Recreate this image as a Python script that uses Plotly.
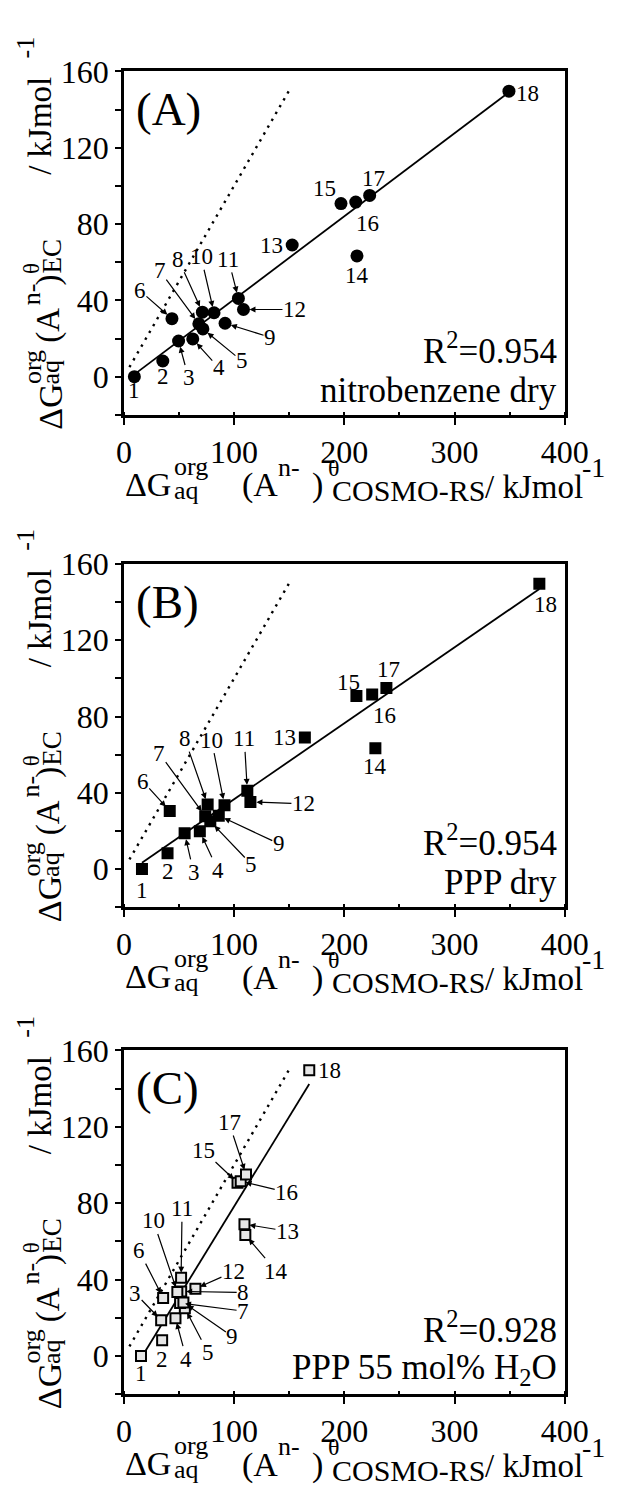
import plotly.graph_objects as go

W, H = 640, 1490
SERIF = "Liberation Serif"

# ---------------- data ----------------
anion_ids = [str(i) for i in range(1, 19)]
# experimental (electrochemical) transfer energies, kJ/mol (y axis, same in all panels)
dg_ec = [0.0, 8.2, 18.7, 19.8, 25.0, 30.4, 27.7, 33.8, 28.0, 33.5,
         41.0, 35.2, 69.0, 63.3, 90.7, 91.5, 95.0, 149.6]
# COSMO-RS predictions, kJ/mol (x axis)
dg_cosmo_nb_dry = [9.5, 35.3, 49.6, 62.5, 71.7, 43.6, 68.0, 71.2, 91.8, 81.8,
                   103.9, 108.5, 152.7, 211.5, 197.0, 210.4, 223.0, 349.4]
dg_cosmo_ppp_dry = [16.4, 39.6, 55.1, 68.9, 78.4, 41.6, 73.8, 76.0, 86.1, 91.3,
                    112.0, 114.8, 164.2, 228.2, 211.0, 225.3, 238.2, 377.0]
dg_cosmo_ppp_wet = [15.5, 34.7, 33.8, 46.8, 55.3, 35.6, 51.0, 52.0, 54.0, 48.5,
                    51.9, 64.9, 109.4, 110.2, 103.1, 106.0, 110.8, 168.2]
panel_letters = ["(A)", "(B)", "(C)"]
r2_values = ["0.954", "0.954", "0.928"]
conditions = ["nitrobenzene dry", "PPP dry", "PPP 55 mol% H<sub>2</sub>O"]
fit_slope = [0.4348, 0.3982, 0.94]
fit_intercept = [-2.92, -3.2, -15.75]
identity_range = [5, 150]
x_tick_step, y_tick_step = 100, 40
x_range, y_range = [0, 400], [-20, 160]

series = [dg_cosmo_nb_dry, dg_cosmo_ppp_dry, dg_cosmo_ppp_wet]

# ---------------- styles / layout positions ----------------
frame_left, frame_right = 122, 586
frame_top = [54, 552.7, 1045]
frame_bottom = [401.7, 900, 1393]

marker_styles = [
    dict(symbol="circle", size=13, color="black", line=dict(width=0)),
    dict(symbol="square", size=12, color="black", line=dict(width=0)),
    dict(symbol="square", size=10, color="#e6e6e6", line=dict(width=2, color="black")),
]

# label placement: ('a', ax, ay) arrow with text at pixel offset, ('t', dx, dy) plain text offset
label_pos = [
    [('t', 0, 14), ('t', 0, 15), ('a', 10, 37), ('a', 26, 29), ('a', 39, 32), ('a', -32, -28),
     ('a', -39, -53), ('a', -24, -53), ('a', 45, 14), ('a', -13, -56), ('a', -10, -39),
     ('a', 51, 0), ('t', -21, 0), ('t', 0, 20), ('t', -16, -15), ('t', 12, 21),
     ('t', 4, -17), ('t', 19, 2)],
    [('t', 0, 21), ('t', 0, 18), ('a', 9, 39), ('a', 18, 39), ('a', 41, 43), ('a', -27, -30),
     ('a', -46, -63), ('a', -23, -66), ('a', 60, 28), ('a', -13, -65), ('a', -3, -52),
     ('a', 53, 2), ('t', -20, 0), ('t', 0, 18), ('t', -8, -14), ('t', 12, 21),
     ('t', 2, -18), ('t', 6, 21)],
    [('t', 0, 18), ('t', 0, 19), ('a', -26, -27), ('a', 11, 41), ('a', 23, 44), ('a', -24, -47),
     ('a', 63, 8), ('a', 62, 1), ('a', 49, 34), ('a', -24, -71), ('a', 1, -69),
     ('a', 38, -17), ('a', 43, 7), ('a', 31, 36), ('a', -34, -32), ('a', 46, 11),
     ('a', -17, -52), ('t', 20, 0)],
]

# stacked axis-title pieces: (text, font size, left px, baseline offset below frame bottom)
xtitle_pieces = [("ΔG", 34, 122, 82), ("org", 26, 174, 61), ("aq", 26, 174, 85),
                 ("(A", 34, 245, 83), ("n-", 26, 283, 62), (")", 34, 319, 83),
                 ("θ", 24, 336, 62), ("COSMO-RS", 30, 340, 87),
                 ("/ kJmol", 33, 501, 84), ("-1", 28, 603, 63)]
# rotated pieces: (text, font size, start offset from frame bottom (px, +down), baseline x px)
ytitle_pieces = [("ΔG", 34, 16, 56), ("org", 26, -30, 34), ("aq", 26, -30, 54),
                 ("(A", 33, -72, 54), ("n-", 26, -110, 33), (")", 33, -130, 54),
                 ("θ", 23, -142, 32), ("EC", 27, -142, 56),
                 ("/ kJmol", 33, -242, 45), ("-1", 26, -360, 27)]


def px_x(px):
    return px / W


def px_y(py):
    return 1 - py / H


fig = go.Figure()

for i in range(3):
    sfx = "" if i == 0 else str(i + 1)
    xa, ya = "x" + sfx, "y" + sfx
    xs = series[i]

    # 1:1 reference line
    fig.add_trace(go.Scatter(x=identity_range, y=identity_range, mode="lines",
                             line=dict(color="black", width=2.4, dash="2.4px,5.5px"),
                             xaxis=xa, yaxis=ya, showlegend=False, hoverinfo="skip"))
    # regression line
    x0, x1 = min(xs), max(xs)
    fig.add_trace(go.Scatter(x=[x0, x1],
                             y=[fit_slope[i] * x0 + fit_intercept[i], fit_slope[i] * x1 + fit_intercept[i]],
                             mode="lines", line=dict(color="black", width=1.8),
                             xaxis=xa, yaxis=ya, showlegend=False, hoverinfo="skip"))
    # data points
    fig.add_trace(go.Scatter(x=xs, y=dg_ec, mode="markers", marker=marker_styles[i],
                             xaxis=xa, yaxis=ya, showlegend=False, text=anion_ids))

    # point labels
    for j, lab in enumerate(anion_ids):
        kind, dx, dy = label_pos[i][j]
        common = dict(x=xs[j], y=dg_ec[j], xref=xa, yref=ya, text=lab,
                      font=dict(family=SERIF, size=23, color="black"))
        if kind == 'a':
            fig.add_annotation(**common, showarrow=True, ax=dx, ay=dy, arrowhead=2,
                               arrowsize=1, arrowwidth=1.2, arrowcolor="black",
                               standoff=6 if i < 2 else 5, borderpad=0)
        else:
            fig.add_annotation(**common, showarrow=False, xshift=dx, yshift=-dy)

    top, bot = frame_top[i], frame_bottom[i]
    dom_y = [px_y(bot), px_y(top)]
    axis_common = dict(showgrid=False, zeroline=False, showline=True, linewidth=2.6,
                       linecolor="black", mirror=True, ticks="outside", tickwidth=2,
                       tickcolor="black", autorange=False,
                       tickfont=dict(family=SERIF, size=32, color="black"))
    fig.layout["xaxis" + sfx] = dict(axis_common, domain=[px_x(frame_left), px_x(frame_right)],
                                     range=x_range, tick0=0, dtick=x_tick_step, ticklen=7,
                                     anchor=ya,
                                     minor=dict(dtick=x_tick_step / 2, tick0=0, ticks="inside",
                                                ticklen=3, tickwidth=1.5, tickcolor="black"))
    fig.layout["yaxis" + sfx] = dict(axis_common, domain=dom_y, range=y_range, tick0=0,
                                     dtick=y_tick_step, ticklen=6, anchor=xa,
                                     minor=dict(dtick=y_tick_step / 2, tick0=0, ticks="outside",
                                                ticklen=6, tickwidth=2, tickcolor="black"))

    # panel letter
    fig.add_annotation(xref="paper", yref="paper", x=px_x(134), y=px_y(top + 38),
                       xanchor="left", yanchor="middle", showarrow=False, borderpad=0,
                       text=panel_letters[i], font=dict(family=SERIF, size=47, color="black"))
    # R^2 and condition
    fig.add_annotation(xref="paper", yref="paper", x=px_x(579), y=px_y(bot - 67),
                       xanchor="right", yanchor="middle", showarrow=False, borderpad=0,
                       text="R<sup>2</sup>=" + r2_values[i],
                       font=dict(family=SERIF, size=35, color="black"))
    fig.add_annotation(xref="paper", yref="paper", x=px_x(579), y=px_y(bot - 25),
                       xanchor="right", yanchor="middle", showarrow=False, borderpad=0,
                       text=conditions[i], font=dict(family=SERIF, size=35, color="black"))

    # x axis title (stacked sub/superscripts)
    for txt, fs, left, boff in xtitle_pieces:
        base = bot + boff
        fig.add_annotation(xref="paper", yref="paper", x=px_x(left), y=px_y(base - 0.34 * fs),
                           xanchor="left", yanchor="middle", showarrow=False, borderpad=0,
                           text=txt, font=dict(family=SERIF, size=fs, color="black"))
    # y axis title (rotated)
    for txt, fs, soff, basex in ytitle_pieces:
        start = bot + soff
        fig.add_annotation(xref="paper", yref="paper", x=px_x(basex - 0.34 * fs), y=px_y(start),
                           xanchor="center", yanchor="bottom", showarrow=False, borderpad=0,
                           textangle=-90, text=txt,
                           font=dict(family=SERIF, size=fs, color="black"))

fig.update_layout(width=W, height=H, margin=dict(l=0, r=0, t=0, b=0),
                  paper_bgcolor="white", plot_bgcolor="white", showlegend=False)

fig.write_html("out.html", config={"displayModeBar": False},
               post_script="document.body.style.margin='0';")
